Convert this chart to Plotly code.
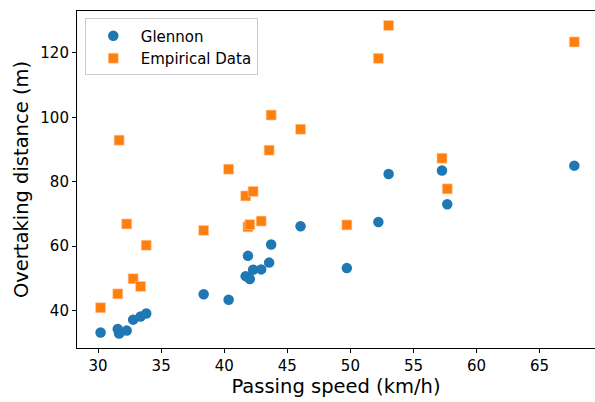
import plotly.graph_objects as go

speed = [30.2, 31.56, 31.67, 32.27, 32.78, 33.37, 33.82, 38.37, 40.35, 41.7,
         41.88, 42.03, 42.29, 42.93, 43.56, 43.72, 46.05, 49.72, 52.22, 53.03,
         57.26, 57.68, 67.75]
glennon = [33.2, 34.3, 32.9, 33.8, 37.2, 38.2, 39.1, 45.1, 43.4, 50.7,
           57.0, 49.8, 52.7, 52.8, 54.9, 60.5, 66.2, 53.2, 67.5, 82.4,
           83.5, 73.0, 85.0]
empirical = [40.9, 45.2, 92.9, 66.9, 49.9, 47.5, 60.3, 64.9, 83.9, 75.6,
             66.0, 66.7, 77.0, 67.8, 89.8, 100.7, 96.3, 66.6, 118.3, 128.5,
             87.3, 77.8, 123.4]
x_ticks = [30, 35, 40, 45, 50, 55, 60, 65]
y_ticks = [40, 60, 80, 100, 120]

font = "DejaVu Sans"
fig = go.Figure()
fig.add_trace(go.Scatter(x=speed, y=glennon, mode="markers", name="Glennon",
                         marker=dict(symbol="circle", size=10.5, color="#1f77b4",
                                     line=dict(width=0))))
fig.add_trace(go.Scatter(x=speed, y=empirical, mode="markers", name="Empirical Data",
                         marker=dict(symbol="square", size=10, color="#ff7f0e",
                                     line=dict(width=0.6, color="#ffd0a8"))))

axis_common = dict(showgrid=False, zeroline=False, showline=True, linecolor="black",
                   linewidth=1.1, ticks="outside", ticklen=4, tickwidth=1, automargin=False,
                   tickcolor="black", tickfont=dict(family=font, size=15, color="black"))
fig.update_xaxes(range=[28.33, 69.39], tickvals=x_ticks, mirror=True,
                 title=dict(text="Passing speed (km/h)", font=dict(family=font, size=19.5, color="black"),
                            standoff=4),
                 **axis_common)
fig.update_yaxes(range=[28.4, 133.0], tickvals=y_ticks, mirror=False,
                 title=dict(text="Overtaking distance (m)", font=dict(family=font, size=19.5, color="black"),
                            standoff=6),
                 **axis_common)
fig.update_layout(width=595, height=402, margin=dict(l=77, r=0, t=11, b=54),
                  plot_bgcolor="white", paper_bgcolor="white",
                  font=dict(family=font, color="black"),
                  legend=dict(x=0.015, y=0.978, xanchor="left", yanchor="top",
                              bgcolor="rgba(255,255,255,0.8)", bordercolor="#cccccc",
                              borderwidth=1, font=dict(family=font, size=15, color="black"),
                              itemwidth=45, tracegroupgap=0))
fig.write_html("out.html", config={"displayModeBar": False},
               post_script="document.body.style.margin='0';document.body.style.overflow='hidden';")
